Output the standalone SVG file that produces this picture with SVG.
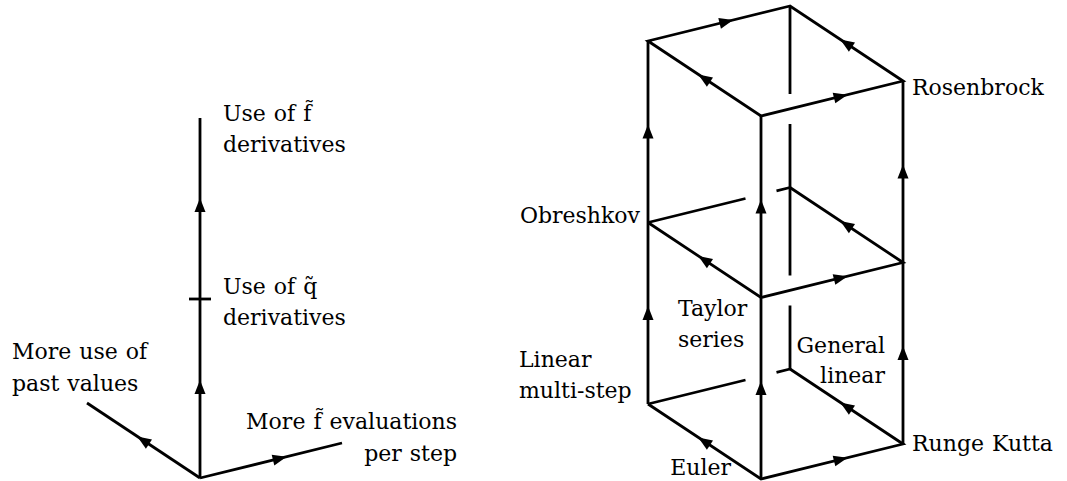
<svg xmlns="http://www.w3.org/2000/svg" xmlns:xlink="http://www.w3.org/1999/xlink" width="1067" height="481" viewBox="0 0 1067 481">
<style>
.e{fill:none;stroke:#000;stroke-width:2.8;stroke-linejoin:miter;stroke-linecap:butt}
.t{font-family:"DejaVu Serif","Liberation Serif",serif;font-size:22px;fill:#000;word-spacing:1px}
.end{text-anchor:end}
</style>
<defs>
<path id="ah" d="M0,0 L-14,-5.5 L-14,5.5 Z" fill="#000"/>
</defs>
<rect width="1067" height="481" fill="#fff"/>
<g id="connectors">
<path class="e" d="M200,478 L200,118"/>
<path class="e" d="M189,299 L211,299"/>
<path class="e" d="M200,478 L87,403"/>
<path class="e" d="M200,478 L342,443"/>
<use xlink:href="#ah" transform="translate(200,380) rotate(-90)"/>
<use xlink:href="#ah" transform="translate(200,198) rotate(-90)"/>
<use xlink:href="#ah" transform="translate(137.3,436.4) rotate(-146.4)"/>
<use xlink:href="#ah" transform="translate(286.6,456.7) rotate(-13.85)"/>
<path class="e" d="M790,6 L790,94 M790,124 L790,275.5 M790,305.5 L790,369"/>
<path class="e" d="M648,222.5 L745.5,198.5 M776.5,190.8 L790,187.5"/>
<path class="e" d="M648,404 L745.5,380 M776.5,372.3 L790,369"/>
<path class="e" d="M790,6 L648,41 L761,116 L903,81 Z"/>
<path class="e" d="M648,222.5 L761,297.5 L903,262.5 L790,187.5"/>
<path class="e" d="M648,404 L761,479 L903,444 L790,369"/>
<path class="e" d="M648,41 L648,404"/>
<path class="e" d="M761,116 L761,479"/>
<path class="e" d="M903,81 L903,444"/>
<use xlink:href="#ah" transform="translate(733.2,20) rotate(-13.85)"/>
<use xlink:href="#ah" transform="translate(698.3,74.4) rotate(-146.4)"/>
<use xlink:href="#ah" transform="translate(840.3,39.4) rotate(-146.4)"/>
<use xlink:href="#ah" transform="translate(847.6,94.65) rotate(-13.85)"/>
<use xlink:href="#ah" transform="translate(698.3,255.9) rotate(-146.4)"/>
<use xlink:href="#ah" transform="translate(847.6,276.15) rotate(-13.85)"/>
<use xlink:href="#ah" transform="translate(840.3,220.9) rotate(-146.4)"/>
<use xlink:href="#ah" transform="translate(698.3,437.4) rotate(-146.4)"/>
<use xlink:href="#ah" transform="translate(847.6,457.65) rotate(-13.85)"/>
<use xlink:href="#ah" transform="translate(840.3,402.4) rotate(-146.4)"/>
<use xlink:href="#ah" transform="translate(648,306) rotate(-90)"/>
<use xlink:href="#ah" transform="translate(648,124.5) rotate(-90)"/>
<use xlink:href="#ah" transform="translate(761,381) rotate(-90)"/>
<use xlink:href="#ah" transform="translate(761,199.5) rotate(-90)"/>
<use xlink:href="#ah" transform="translate(903,346) rotate(-90)"/>
<use xlink:href="#ah" transform="translate(903,164.5) rotate(-90)"/>
</g>
<g id="f-derivatives"><text class="t" x="223" y="121">Use of f̃</text><text class="t" x="223" y="152">derivatives</text></g>
<g id="q-derivatives"><text class="t" x="223" y="294">Use of q̃</text><text class="t" x="223" y="325">derivatives</text></g>
<g id="past-values"><text class="t" x="12" y="359">More use of</text><text class="t" x="12" y="391">past values</text></g>
<g id="f-evaluations"><text class="t end" x="457" y="429">More f̃ evaluations</text><text class="t end" x="457" y="461">per step</text></g>
<g id="rosenbrock"><text class="t" x="912" y="95">Rosenbrock</text></g>
<g id="obreshkov"><text class="t end" x="640" y="223">Obreshkov</text></g>
<g id="linear-multistep"><text class="t" x="519" y="367">Linear</text><text class="t" x="519" y="398">multi-step</text></g>
<g id="taylor"><text class="t" x="678" y="316">Taylor</text><text class="t" x="678" y="347">series</text></g>
<g id="general-linear"><text class="t end" x="885" y="353">General</text><text class="t end" x="885" y="383">linear</text></g>
<g id="runge-kutta"><text class="t" x="912" y="451">Runge Kutta</text></g>
<g id="euler"><text class="t end" x="731" y="475">Euler</text></g>
</svg>
